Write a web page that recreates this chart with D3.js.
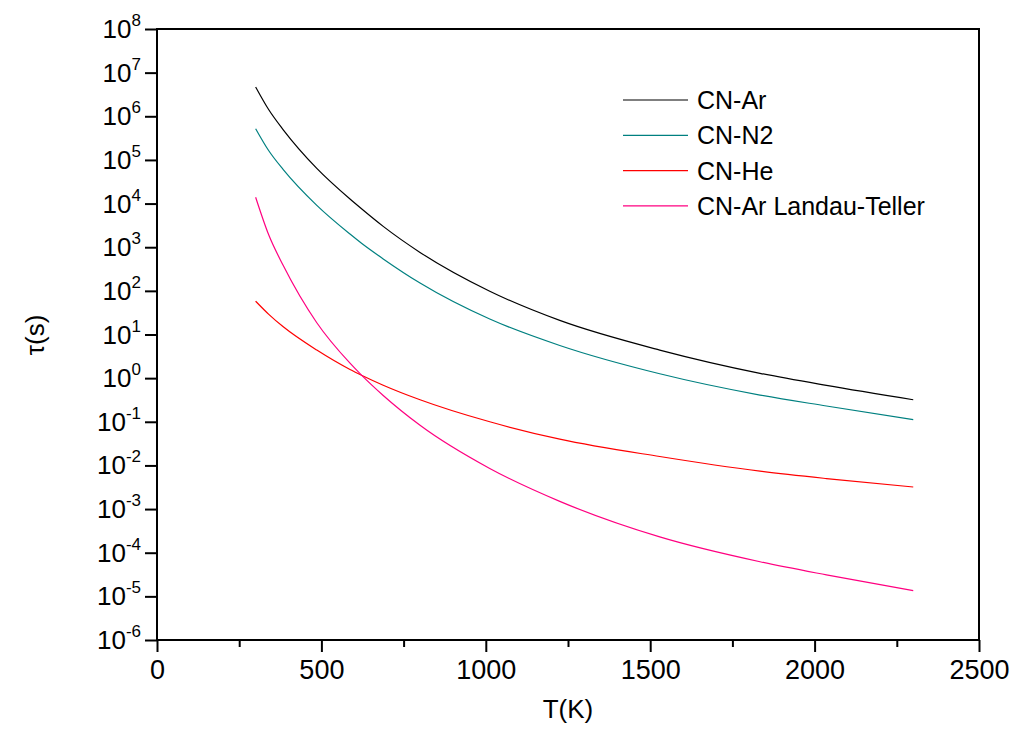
<!DOCTYPE html>
<html>
<head>
<meta charset="utf-8">
<script src="https://cdn.jsdelivr.net/npm/d3@7"></script>
<style>
  body { margin: 0; background: #fff; }
  svg { display: block; }
  text { font-family: "Liberation Sans", Arial, sans-serif; fill: #000; }
</style>
</head>
<body>
<svg id="chart" width="1015" height="747"></svg>
<script>
// ---- data ----
const temperatureK = [300, 340, 384, 486, 587, 622, 688, 800, 1012, 1225, 1529, 1834, 2036, 2300];
const tauCNAr   = [4.7e6, 1.41e6, 4.9e5, 6.4e4, 1.27e4, 7.6e3, 3.0e3, 760, 98, 21, 4.4, 1.29, 0.68, 0.32];
const tauCNN2   = [5.2e5, 1.62e5, 6.0e4, 9.1e3, 2.0e3, 1.23e3, 540, 151, 22.6, 5.6, 1.26, 0.41, 0.23, 0.112];
const tauCNHe   = [58, 29, 15, 4.4, 1.58, 1.17, 0.69, 0.32, 0.10, 0.040, 0.016, 0.0074, 0.0050, 0.0032];
const tauCNArLT = [1.4e4, 1.9e3, 380, 18.6, 2.2, 1.17, 0.40, 0.083, 0.0085, 0.0015, 2.3e-4, 6.2e-5, 3.1e-5, 1.35e-5];
const seriesNames = ["CN-Ar", "CN-N2", "CN-He", "CN-Ar Landau-Teller"];
const seriesColors = ["#000000", "#008080", "#ff0000", "#ff0080"];
const xTicks = [0, 500, 1000, 1500, 2000, 2500];
const xMinorTicks = [250, 750, 1250, 1750, 2250];
const yExponents = [-6, -5, -4, -3, -2, -1, 0, 1, 2, 3, 4, 5, 6, 7, 8];

const seriesValues = [tauCNAr, tauCNN2, tauCNHe, tauCNArLT];

// ---- layout ----
const svg = d3.select("#chart");
const pL = 157, pR = 979, pT = 29, pB = 640;

const x = d3.scaleLinear().domain([0, 2500]).range([pL, pR]);
const y = d3.scaleLog().domain([1e-6, 1e8]).range([pB, pT]);

// data lines
const line = d3.line()
  .x(d => x(d[0]))
  .y(d => y(d[1]))
  .curve(d3.curveMonotoneX);

seriesValues.forEach((vals, i) => {
  const pts = temperatureK.map((t, k) => [t, vals[k]]);
  svg.append("path")
    .datum(pts)
    .attr("d", line)
    .attr("fill", "none")
    .attr("stroke", seriesColors[i])
    .attr("stroke-width", 1.2);
});

// frame
svg.append("rect")
  .attr("x", pL).attr("y", pT)
  .attr("width", pR - pL).attr("height", pB - pT)
  .attr("fill", "none").attr("stroke", "#000").attr("stroke-width", 2);

// x axis major
const xAxis = d3.axisBottom(x).tickValues(xTicks).tickSize(12).tickPadding(6)
  .tickFormat(d3.format("d"));
const gx = svg.append("g").attr("transform", `translate(0,${pB})`).call(xAxis);
gx.select(".domain").remove();
gx.selectAll(".tick line").attr("stroke-width", 2);
gx.selectAll(".tick text").attr("font-size", 27).attr("font-family", "Liberation Sans, Arial, sans-serif").attr("dy", "0.71em").attr("y", 20);

// x axis minor
const gxm = svg.append("g").attr("transform", `translate(0,${pB})`)
  .call(d3.axisBottom(x).tickValues(xMinorTicks).tickSize(7).tickFormat(""));
gxm.select(".domain").remove();
gxm.selectAll(".tick line").attr("stroke-width", 2);

// y axis
const yAxis = d3.axisLeft(y).tickValues(yExponents.map(e => Math.pow(10, e))).tickSize(12).tickFormat("");
const gy = svg.append("g").attr("transform", `translate(${pL},0)`).call(yAxis);
gy.select(".domain").remove();
gy.selectAll(".tick line").attr("stroke-width", 2);

yExponents.forEach(e => {
  const t = svg.append("text")
    .attr("x", 141)
    .attr("y", y(Math.pow(10, e)) + 9)
    .attr("text-anchor", "end")
    .attr("font-size", 26);
  t.append("tspan").text("10");
  t.append("tspan").attr("dy", -12).attr("font-size", 17).text(String(e));
});

// axis titles
svg.append("text")
  .attr("x", (pL + pR) / 2)
  .attr("y", 718)
  .attr("text-anchor", "middle")
  .attr("font-size", 26)
  .text("T(K)");

svg.append("text")
  .attr("transform", "translate(44,335) rotate(-90)")
  .attr("text-anchor", "middle")
  .attr("font-size", 26)
  .text("τ(s)");

// legend
const legend = svg.append("g");
seriesNames.forEach((name, i) => {
  const ly = 100 + i * 35.3;
  legend.append("line")
    .attr("x1", 623).attr("x2", 688)
    .attr("y1", ly).attr("y2", ly)
    .attr("stroke", seriesColors[i]).attr("stroke-width", 1.2);
  legend.append("text")
    .attr("x", 697).attr("y", ly + 9)
    .attr("font-size", 25)
    .text(name);
});
</script>
</body>
</html>
